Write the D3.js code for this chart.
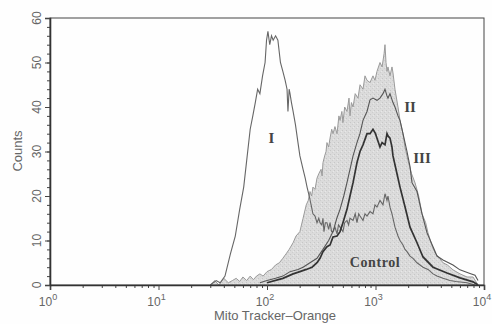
<!DOCTYPE html>
<html>
<head>
<meta charset="utf-8">
<script src="https://cdn.jsdelivr.net/npm/d3@7"></script>
<style>
  body { margin: 0; background: #fefefe; }
  svg { display: block; font-family: "Liberation Sans", Arial, sans-serif; }
</style>
</head>
<body>
<div class="chart"></div>
<script>
// histogram data (channel value, counts)
var controlX = [30,33,36,40,44,48,52,56,60,65,70,75,80,86,92,100,110,120,130,140,150,160,174,185,201,215,230,240,249,258,265,277,289,300,315,322,328,340,350,357,370,381,395,406,423,442,460,471,490,501,520,546,570,582,600,621,650,690,720,767,800,835,890,948,989,1032,1100,1150,1200,1223,1250,1276,1303,1360,1419,1449,1512,1612,1682,1792,1870,1993,2150,2312,2500,2684,2900,3048,3300,3535,3900,4190,4600,5180,6010,6970,7925,8810];
var controlY = [0,1,0,1.5,0.5,1,1.5,0.8,1.8,1,2,1.2,2,2.5,2,3,3.5,4.5,5,6,7,8,9.5,11,12,15,18,19,21,20,22,21.5,24,25,26,24.5,27.5,29,30,32,31,33,35,34,35.6,34,38,37,39,36.5,40,39,42,38,41,40,43,42,45,44,47,46,45.5,47,46,48,50,49,52,54,50,48,49,47,49,47.7,44,40,37,34,31,28,25,23,20,16,14,11.7,9,7.2,6,5,4.5,3.4,2.5,1.8,1.8,0];

var oneX = [30,34,37,41,46,51,56,61,65,70,74,78,82,86,91,96,99,102,106,110,114,120,126,133,140,147,153,156,160,163,168,174,183,193,201,215,225,234,245,255,265,277,289,300,308,320,328,335,345,357,370,381,394,406,423,442,456,471,501,520,546,565,582,621,650,675,700,720,767,800,835,890,948,989,1032,1100,1172,1223,1276,1303,1360,1419,1512,1612,1682,1792,1870,1951,2080,2216,2413,2741,3048,3390,3688,4190,4862,5500,6970,8260];
var oneY = [0,1,0.5,2,7,11,17,22,28,35,38,41,44,43,47,50,55,57,54,56,55,56,55,50,48,46,44,39,44,43,41,39,36,32,29,26,24,22,20,18,16,15.5,14,15,14,13.5,15,12,14,14,12.5,14,12,12,13,11.5,13.5,13,12,14,14.5,13.5,15,14.5,16,14,16,15.5,14.5,16,15.5,16.5,16,18,17.5,19,18,20.5,19,20,17.5,16,13,11,10,9,8,7.5,6.5,6,5,4,3.5,2.5,2,1.5,1,0.8,0.5,0];

var twoX = [86,100,120,140,163,193,215,249,289,328,370,406,440,471,510,546,582,621,675,719,767,835,890,948,1032,1100,1172,1223,1276,1303,1360,1449,1512,1612,1682,1792,1951,2080,2170,2413,2684,2985,3390,3688,4190,5180,6000,7430,8260,8810];
var twoY = [0.5,1,1.5,2,3,3.5,4,5,6,8,10,12,15,17,20,23,26,29,32,34,37,39,41.6,42,41.5,42,43,44,42.5,42,43,41,40,38,37,34,30,26.6,23,21,16,11.7,8.6,6.5,5.6,4.5,3.4,2.6,2.2,1,0];

var threeX = [100,140,174,201,230,260,289,308,328,357,381,406,442,471,501,546,582,621,675,720,767,835,890,948,1000,1032,1100,1150,1223,1276,1303,1360,1419,1449,1578,1682,1870,2080,2413,2741,3390,4560,6010,7925,8810];
var threeY = [0.5,1.5,2.5,3,3.5,4,5,6,7.5,8.6,9,10.8,11,12,14,17,20,23,27.5,30,31.5,34,34,35,34,33,31,32,31.5,34,33.5,33,31,29,25,22,17.6,13,9.5,6.3,4,2.7,1.6,0.7,0];

var yTicks = [0,10,20,30,40,50,60];
var xTicks = [1,10,100,1000,10000];
var xExp = ["0","1","2","3","4"];

// curve labels: text, channel value, counts
var labels = [
  {t: "I", x: 110, y: 31.9},
  {t: "II", x: 2080, y: 38.9},
  {t: "III", x: 2684, y: 27.4},
  {t: "Control", x: 990, y: 4.0}
];

var svgWidth = 492;
var svgHeight = 324;
var margin = {top: 18, right: 8, bottom: 39, left: 50};
var width = svgWidth - margin.left - margin.right;
var height = svgHeight - margin.top - margin.bottom;

var svg = d3.select(".chart")
  .append("svg")
  .attr("width", svgWidth)
  .attr("height", svgHeight);

// stipple for the filled control histogram
var defs = svg.append("defs");
var pat = defs.append("pattern")
  .attr("id", "stip")
  .attr("width", 4).attr("height", 4)
  .attr("patternUnits", "userSpaceOnUse");
pat.append("rect").attr("width", 4).attr("height", 4).attr("fill", "#dbdbdb");
pat.append("rect").attr("x", 0).attr("y", 0).attr("width", 1).attr("height", 1).attr("fill", "#c6c6c6");
pat.append("rect").attr("x", 2).attr("y", 2).attr("width", 1).attr("height", 1).attr("fill", "#cdcdcd");
pat.append("rect").attr("x", 3).attr("y", 1).attr("width", 1).attr("height", 1).attr("fill", "#e8e8e8");

var g = svg.append("g")
  .attr("transform", "translate(" + margin.left + "," + margin.top + ")");

var x = d3.scaleLog().domain([1, 10000]).range([0, width]);
var y = d3.scaleLinear().domain([0, 60]).range([height, 0]);

function pts(xs, ys) {
  return xs.map(function(v, i) { return [v, ys[i]]; });
}

var line = d3.line()
  .x(function(d) { return x(d[0]); })
  .y(function(d) { return y(d[1]); });

var area = d3.area()
  .x(function(d) { return x(d[0]); })
  .y0(y(0))
  .y1(function(d) { return y(d[1]); });

// control: filled
g.append("path")
  .attr("d", area(pts(controlX, controlY)))
  .attr("fill", "url(#stip)");
g.append("path")
  .attr("d", line(pts(controlX, controlY)))
  .attr("fill", "none")
  .attr("stroke", "#9a9a9a")
  .attr("stroke-width", 1);

g.append("path")
  .attr("d", line(pts(oneX, oneY)))
  .attr("fill", "none")
  .attr("stroke", "#666")
  .attr("stroke-width", 1.1);

g.append("path")
  .attr("d", line(pts(twoX, twoY)))
  .attr("fill", "none")
  .attr("stroke", "#555")
  .attr("stroke-width", 1.1);

g.append("path")
  .attr("d", line(pts(threeX, threeY)))
  .attr("fill", "none")
  .attr("stroke", "#333")
  .attr("stroke-width", 1.7);

// frame
g.append("rect")
  .attr("width", width).attr("height", height)
  .attr("fill", "none")
  .attr("stroke", "#444")
  .attr("stroke-width", 1);

// x axis
var minors = [];
for (var e = 0; e < 4; e++) {
  for (var m = 2; m < 10; m++) minors.push(m * Math.pow(10, e));
}
var xAxisMinor = g.append("g")
  .attr("transform", "translate(0," + height + ")")
  .call(d3.axisBottom(x).tickValues(minors).tickSize(3).tickFormat(""));
var xAxis = g.append("g")
  .attr("transform", "translate(0," + height + ")")
  .call(d3.axisBottom(x).tickValues(xTicks).tickSize(5).tickFormat(""));
xAxis.select(".domain").attr("stroke", "#333").attr("stroke-width", 1.6);
xAxisMinor.select(".domain").remove();
g.selectAll(".tick line").attr("stroke", "#444");

xTicks.forEach(function(v, i) {
  var t = g.append("text")
    .attr("x", x(v) - 2)
    .attr("y", height + 21)
    .attr("text-anchor", "middle")
    .attr("fill", "#666")
    .attr("font-size", 12)
    .text("10");
  t.append("tspan")
    .attr("dy", -6)
    .attr("font-size", 9)
    .text(xExp[i]);
});

// y axis
var yAxisMinor = g.append("g")
  .call(d3.axisLeft(y).tickValues(d3.range(0, 61, 2)).tickSize(3).tickFormat(""));
var yAxis = g.append("g")
  .call(d3.axisLeft(y).tickValues(yTicks).tickSize(5).tickFormat(""));
yAxis.select(".domain").attr("stroke", "#333").attr("stroke-width", 1.6);
yAxisMinor.select(".domain").remove();
g.selectAll(".tick line").attr("stroke", "#444");

yTicks.forEach(function(v) {
  g.append("text")
    .attr("transform", "translate(-9," + y(v) + ") rotate(-90)")
    .attr("text-anchor", "middle")
    .attr("fill", "#666")
    .attr("font-size", 12)
    .text(v);
});

// axis titles
svg.append("text")
  .attr("transform", "translate(22,151) rotate(-90)")
  .attr("text-anchor", "middle")
  .attr("fill", "#666")
  .attr("font-size", 13)
  .text("Counts");

svg.append("text")
  .attr("x", 275)
  .attr("y", 320)
  .attr("text-anchor", "middle")
  .attr("fill", "#666")
  .attr("font-size", 13)
  .text("Mito Tracker\u2013Orange");

// curve labels
labels.forEach(function(d) {
  g.append("text")
    .attr("x", x(d.x))
    .attr("y", y(d.y))
    .attr("text-anchor", "middle")
    .attr("fill", "#444")
    .attr("font-family", "'Liberation Serif', 'DejaVu Serif', serif")
    .attr("font-weight", "bold")
    .attr("font-size", d.t == "Control" ? 14 : 15)
    .attr("letter-spacing", d.t == "Control" ? 0.6 : 0)
    .text(d.t);
});
</script>
</body>
</html>
